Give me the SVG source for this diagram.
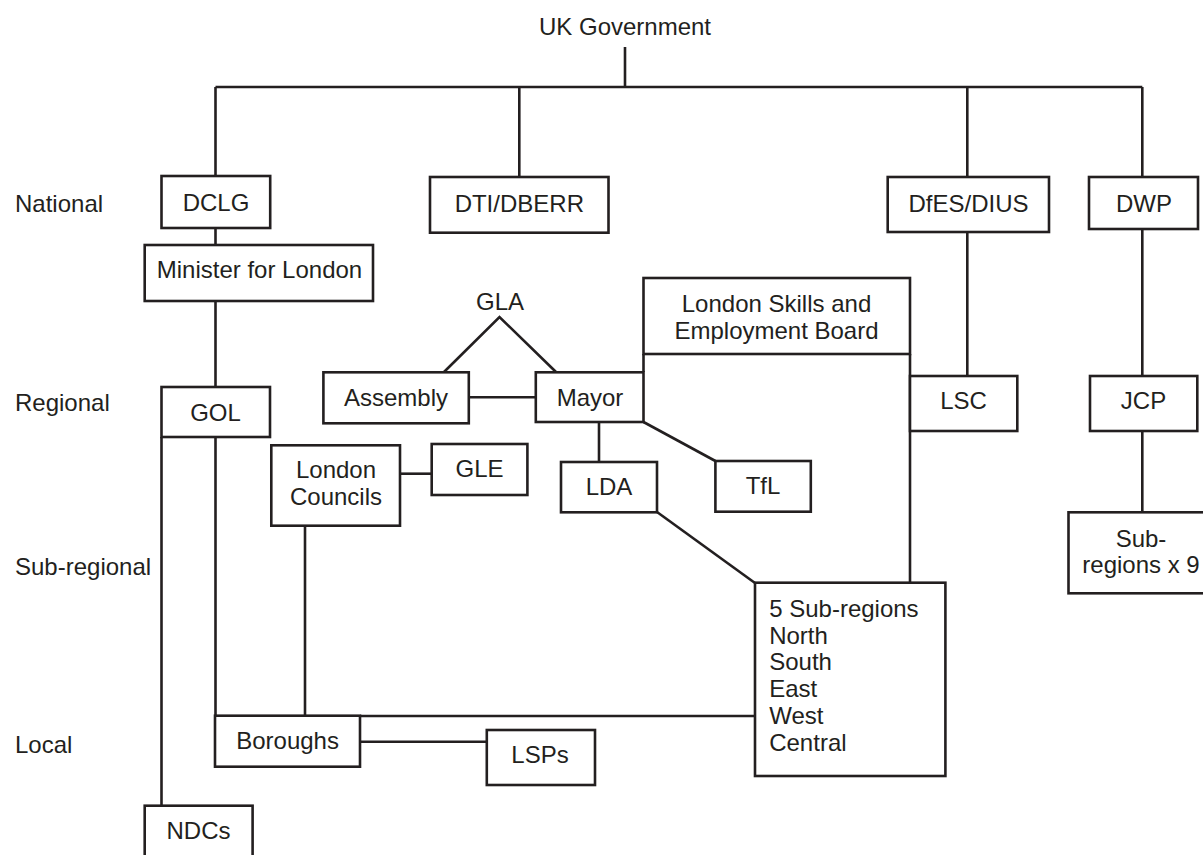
<svg xmlns="http://www.w3.org/2000/svg" width="1203" height="855" viewBox="0 0 1203 855">
<style>
text{font-family:"Liberation Sans",Arial,sans-serif;font-size:24px;fill:#231f20}
.c{text-anchor:middle}
.box{fill:#fff;stroke:#231f20;stroke-width:2.6}
.ln{fill:none;stroke:#231f20;stroke-width:2.6}
</style>
<rect width="1203" height="855" fill="#fff"/>
<g id="connectors" class="ln">
<path d="M625,47V87M215.5,87H1142.3M215.5,87V176M519.3,87V177M967.3,87V177M1142.3,87V177"/>
<path d="M215.5,228V245M215.5,301V387"/>
<path d="M215.5,437V716M161.5,437V806"/>
<path d="M444,372L499.5,317L556,372"/>
<path d="M468.8,397.3H535.8"/>
<path d="M599,422V462"/>
<path d="M643.5,354V372"/>
<path d="M643.5,422L715.4,461"/>
<path d="M657,512L755,583"/>
<path d="M910,354V583"/>
<path d="M967.3,232V376M1142.3,229V376M1142.3,431V512.3"/>
<path d="M400,473.7H431.7"/>
<path d="M305,525.7V716"/>
<path d="M360,716H755"/>
<path d="M360,741.7H486.8"/>
</g>
<g id="levels">
<text x="15" y="212">National</text>
<text x="15" y="411">Regional</text>
<text x="15" y="575">Sub-regional</text>
<text x="15" y="753">Local</text>
</g>
<g id="uk-government"><text class="c" x="625" y="35">UK Government</text></g>
<g id="dclg"><rect class="box" x="161.5" y="176" width="108.7" height="52"/><text class="c" x="216" y="211">DCLG</text></g>
<g id="dti"><rect class="box" x="430" y="177" width="178.5" height="55.7"/><text class="c" x="519.3" y="212">DTI/DBERR</text></g>
<g id="dfes"><rect class="box" x="887.7" y="177" width="161.3" height="55"/><text class="c" x="968.5" y="212">DfES/DIUS</text></g>
<g id="dwp"><rect class="box" x="1089" y="177" width="109" height="52"/><text class="c" x="1144" y="212">DWP</text></g>
<g id="minister"><rect class="box" x="144.7" y="245" width="228.3" height="56"/><text class="c" x="259.5" y="278">Minister for London</text></g>
<g id="gla"><text class="c" x="500" y="310">GLA</text></g>
<g id="lseb"><rect class="box" x="643.5" y="278" width="266.5" height="76"/><text class="c" x="776.5" y="312">London Skills and</text><text class="c" x="776.5" y="339">Employment Board</text></g>
<g id="gol"><rect class="box" x="161.5" y="387" width="108.5" height="50"/><text class="c" x="215.5" y="421">GOL</text></g>
<g id="assembly"><rect class="box" x="323.4" y="372.3" width="145.4" height="51"/><text class="c" x="396" y="406">Assembly</text></g>
<g id="mayor"><rect class="box" x="535.8" y="372.3" width="107.7" height="49.7"/><text class="c" x="590" y="406">Mayor</text></g>
<g id="lsc"><rect class="box" x="910" y="376" width="107.3" height="55"/><text class="c" x="963.5" y="409">LSC</text></g>
<g id="jcp"><rect class="box" x="1090" y="376" width="107.3" height="55"/><text class="c" x="1143.5" y="409">JCP</text></g>
<g id="london-councils"><rect class="box" x="271.3" y="445.3" width="128.7" height="80.4"/><text class="c" x="336" y="478">London</text><text class="c" x="336" y="505">Councils</text></g>
<g id="gle"><rect class="box" x="431.7" y="444" width="95.7" height="51"/><text class="c" x="479.5" y="477">GLE</text></g>
<g id="lda"><rect class="box" x="561" y="462" width="96" height="50.3"/><text class="c" x="609" y="495">LDA</text></g>
<g id="tfl"><rect class="box" x="715.4" y="461" width="95.4" height="50.7"/><text class="c" x="763" y="494.3">TfL</text></g>
<g id="sub-regions-9"><rect class="box" x="1068.5" y="512.3" width="145" height="81"/><text class="c" x="1141" y="546.7">Sub-</text><text class="c" x="1141" y="573.3">regions x 9</text></g>
<g id="five-sub-regions"><rect class="box" x="755" y="582.7" width="190.4" height="193.3"/>
<text x="769.2" y="616.7">5 Sub-regions</text><text x="769.2" y="643.5">North</text><text x="769.2" y="670.3">South</text><text x="769.2" y="697.1">East</text><text x="769.2" y="723.9">West</text><text x="769.2" y="750.7">Central</text></g>
<g id="boroughs"><rect class="box" x="215" y="715.7" width="145" height="51"/><text class="c" x="287.6" y="749">Boroughs</text></g>
<g id="lsps"><rect class="box" x="486.8" y="730" width="108.2" height="55"/><text class="c" x="540" y="763.3">LSPs</text></g>
<g id="ndcs"><rect class="box" x="144.7" y="805.7" width="107.9" height="70"/><text class="c" x="198.5" y="839">NDCs</text></g>
</svg>
